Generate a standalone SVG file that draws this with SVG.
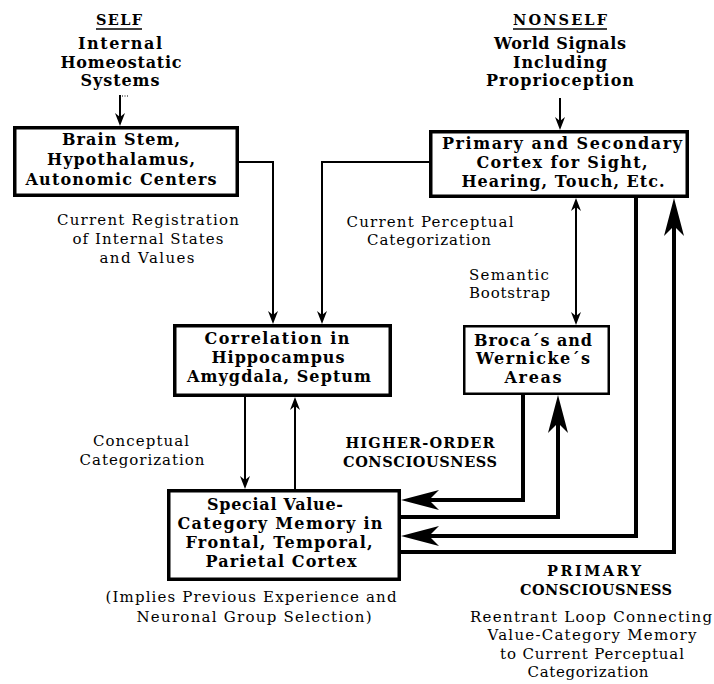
<svg xmlns="http://www.w3.org/2000/svg" width="714" height="684" viewBox="0 0 714 684">
  <style>
    .box { fill: #fff; stroke: #000; stroke-width: 3.5; }
    .box-thin { fill: #fff; stroke: #000; stroke-width: 2.5; }
    .b { font-family: "DejaVu Serif", "Liberation Serif", serif; font-weight: bold; font-size: 16px; fill: #000; text-anchor: middle; }
    .caps { font-size: 14.5px; }
    .r { font-family: "DejaVu Serif", "Liberation Serif", serif; font-size: 15px; fill: #000; text-anchor: middle; }
    .thin { fill: none; stroke: #000; stroke-width: 2; }
    .thick { fill: none; stroke: #000; stroke-width: 4; }
  </style>
  <defs>
    <!-- small notched arrowhead for thin connectors; tip 3px beyond path end -->
    <marker id="ah" markerUnits="userSpaceOnUse" markerWidth="20" markerHeight="20" refX="0" refY="0" orient="auto-start-reverse" overflow="visible">
      <path d="M3,0 L-10,-5 L-6,0 L-10,5 Z" fill="#000"/>
    </marker>
    <!-- large notched arrowhead for thick loops; tip 10px beyond path end -->
    <marker id="AH" markerUnits="userSpaceOnUse" markerWidth="60" markerHeight="30" refX="0" refY="0" orient="auto" overflow="visible">
      <path d="M10,0 L-28,-10 L-20,-2 L-20,2 L-28,10 Z" fill="#000"/>
    </marker>
  </defs>
  <rect width="714" height="684" fill="#fff"/>

  <!-- source headings -->
  <g id="self">
    <text class="b caps" x="119" y="25" textLength="46" lengthAdjust="spacing">SELF</text>
    <line x1="96" y1="29" x2="142" y2="29" stroke="#000" stroke-width="1.5"/>
    <text class="b" x="120" y="49" textLength="84" lengthAdjust="spacing">Internal</text>
    <text class="b" x="121" y="68" textLength="121" lengthAdjust="spacing">Homeostatic</text>
    <text class="b" x="120" y="86" textLength="79" lengthAdjust="spacing">Systems</text>
  </g>
  <g id="nonself">
    <text class="b caps" x="560" y="25" textLength="94" lengthAdjust="spacing">NONSELF</text>
    <line x1="513" y1="29" x2="607" y2="29" stroke="#000" stroke-width="1.5"/>
    <text class="b" x="560" y="49" textLength="132" lengthAdjust="spacing">World Signals</text>
    <text class="b" x="560" y="68" textLength="94" lengthAdjust="spacing">Including</text>
    <text class="b" x="560" y="86" textLength="148" lengthAdjust="spacing">Proprioception</text>
  </g>

  <!-- connectors -->
  <g id="connectors">
    <path class="thin" d="M120,95 V123" marker-end="url(#ah)"/>
    <path d="M122,96 H129" stroke="#000" stroke-width="1" stroke-dasharray="1,1.5"/>
    <path class="thin" d="M560,98 V127" marker-end="url(#ah)"/>
    <path class="thin" d="M239,162 H273 V321" marker-end="url(#ah)"/>
    <path class="thin" d="M429,162 H322 V321" marker-end="url(#ah)"/>
    <path class="thin" d="M245,397 V486" marker-end="url(#ah)"/>
    <path class="thin" d="M295,489 V400" marker-end="url(#ah)"/>
    <path class="thin" d="M576,201 V322" marker-start="url(#ah)" marker-end="url(#ah)"/>
    <path class="thick" d="M523,395 V500 H411" marker-end="url(#AH)"/>
    <path class="thick" d="M401,517 H558 V405" marker-end="url(#AH)"/>
    <path class="thick" d="M636,198 V536 H411" marker-end="url(#AH)"/>
    <path class="thick" d="M401,552 H674 V208" marker-end="url(#AH)"/>
  </g>

  <g id="brain-stem">
    <rect class="box" x="14.75" y="127.75" width="222.5" height="67.5"/>
    <text class="b" x="121" y="145" textLength="118" lengthAdjust="spacing">Brain Stem,</text>
    <text class="b" x="121" y="165" textLength="148" lengthAdjust="spacing">Hypothalamus,</text>
    <text class="b" x="121" y="185" textLength="191" lengthAdjust="spacing">Autonomic Centers</text>
  </g>

  <g id="primary-cortex">
    <rect class="box" x="430.75" y="131.75" width="256.5" height="64.5"/>
    <text class="b" x="562" y="149" textLength="240" lengthAdjust="spacing">Primary and Secondary</text>
    <text class="b" x="562" y="168" textLength="171" lengthAdjust="spacing">Cortex for Sight,</text>
    <text class="b" x="563" y="187" textLength="203" lengthAdjust="spacing">Hearing, Touch, Etc.</text>
  </g>

  <g id="correlation">
    <rect class="box" x="174.75" y="325.75" width="215.5" height="69.5"/>
    <text class="b" x="277" y="344" textLength="145" lengthAdjust="spacing">Correlation in</text>
    <text class="b" x="278" y="363" textLength="133" lengthAdjust="spacing">Hippocampus</text>
    <text class="b" x="279" y="382" textLength="184" lengthAdjust="spacing">Amygdala, Septum</text>
  </g>

  <g id="broca-wernicke">
    <rect class="box-thin" x="464.25" y="326.25" width="144.5" height="67.5"/>
    <text class="b" x="533" y="346" textLength="118" lengthAdjust="spacing">Broca´s and</text>
    <text class="b" x="533" y="364" textLength="114" lengthAdjust="spacing">Wernicke´s</text>
    <text class="b" x="533" y="383" textLength="57" lengthAdjust="spacing">Areas</text>
  </g>

  <g id="value-category-memory">
    <rect class="box" x="168.75" y="490.75" width="230.5" height="88.5"/>
    <text class="b" x="275" y="510" textLength="136" lengthAdjust="spacing">Special Value-</text>
    <text class="b" x="280" y="529" textLength="205" lengthAdjust="spacing">Category Memory in</text>
    <text class="b" x="279" y="548" textLength="187" lengthAdjust="spacing">Frontal, Temporal,</text>
    <text class="b" x="281" y="567" textLength="151" lengthAdjust="spacing">Parietal Cortex</text>
  </g>

  <!-- connector labels -->
  <g id="labels">
    <text class="r" x="148" y="225" textLength="182" lengthAdjust="spacing">Current Registration</text>
    <text class="r" x="148" y="244" textLength="151" lengthAdjust="spacing">of Internal States</text>
    <text class="r" x="147" y="263" textLength="95" lengthAdjust="spacing">and Values</text>

    <text class="r" x="430" y="227" textLength="167" lengthAdjust="spacing">Current Perceptual</text>
    <text class="r" x="429" y="245" textLength="124" lengthAdjust="spacing">Categorization</text>

    <text class="r" x="509" y="280" textLength="80" lengthAdjust="spacing">Semantic</text>
    <text class="r" x="509.5" y="298" textLength="81" lengthAdjust="spacing">Bootstrap</text>

    <text class="r" x="141" y="446" textLength="96" lengthAdjust="spacing">Conceptual</text>
    <text class="r" x="142" y="465" textLength="125" lengthAdjust="spacing">Categorization</text>

    <text class="b caps" x="420" y="448" textLength="149" lengthAdjust="spacing">HIGHER-ORDER</text>
    <text class="b caps" x="420" y="467" textLength="154" lengthAdjust="spacing">CONSCIOUSNESS</text>

    <text class="r" x="251" y="602" textLength="291" lengthAdjust="spacing">(Implies Previous Experience and</text>
    <text class="r" x="254" y="622" textLength="235" lengthAdjust="spacing">Neuronal Group Selection)</text>

    <text class="b caps" x="594" y="576" textLength="94" lengthAdjust="spacing">PRIMARY</text>
    <text class="b caps" x="596" y="595" textLength="152" lengthAdjust="spacing">CONSCIOUSNESS</text>

    <text class="r" x="591" y="622" textLength="242" lengthAdjust="spacing">Reentrant Loop Connecting</text>
    <text class="r" x="592" y="640" textLength="209" lengthAdjust="spacing">Value-Category Memory</text>
    <text class="r" x="592" y="659" textLength="184" lengthAdjust="spacing">to Current Perceptual</text>
    <text class="r" x="588" y="677" textLength="121" lengthAdjust="spacing">Categorization</text>
  </g>
</svg>
